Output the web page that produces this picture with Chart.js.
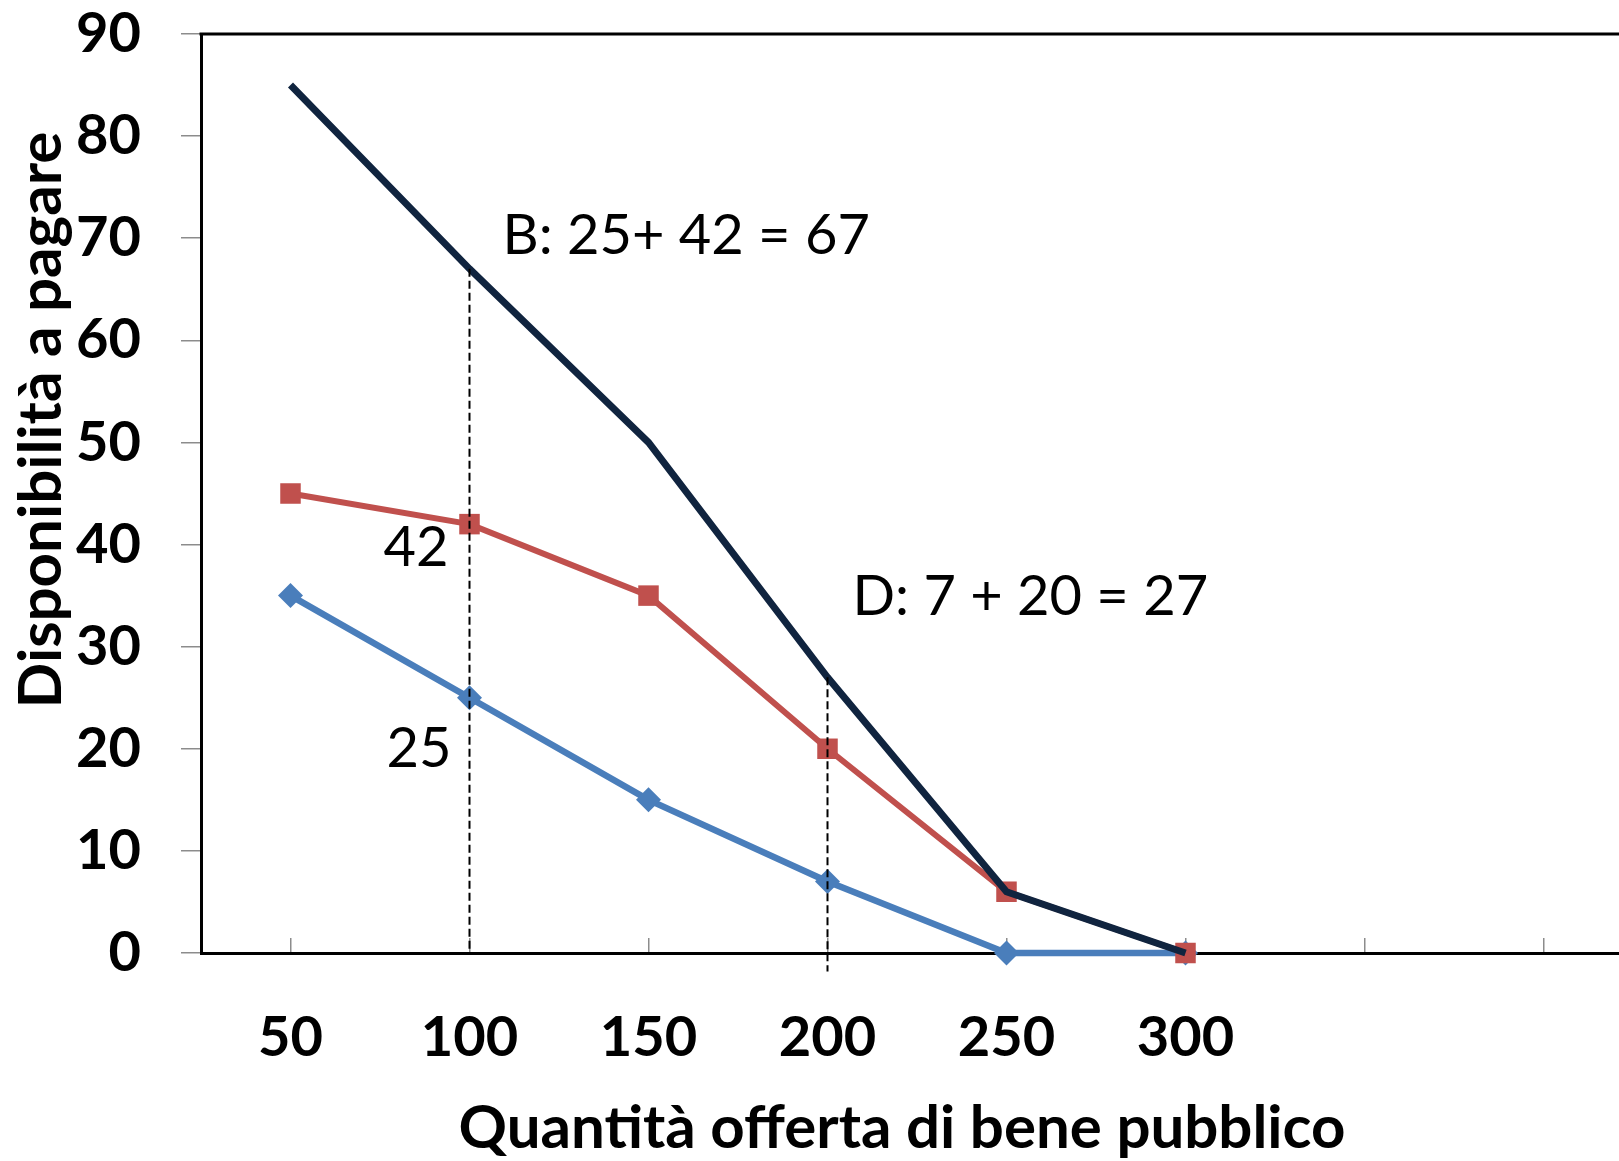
<!DOCTYPE html>
<html>
<head>
<meta charset="utf-8">
<title>Disponibilità a pagare</title>
<script src="https://cdn.jsdelivr.net/npm/chart.js@4.4.1/dist/chart.umd.min.js"></script>
<style>
  html, body { margin: 0; padding: 0; background: #fff; overflow: hidden; }
  canvas { display: block; }
</style>
</head>
<body>
<canvas id="grafico" width="1633" height="1161"></canvas>
<script>
// valori
var quantita = ['50', '100', '150', '200', '250', '300', '', ''];
var serieBlu = [35, 25, 15, 7, 0, 0];
var serieRossa = [45, 42, 35, 20, 6, 0];
var totale = [85, 67, 50, 27, 6, 0];
var yMin = 0, yMax = 90, yPasso = 10;

// linee tratteggiate verticali (B e D)
var lineaB = [{x: '100', y: 67}, {x: '100', y: 0}];
var lineaD = [{x: '200', y: 27}, {x: '200', y: -1.8}];

// etichette di testo sul grafico
var note = [
    {testo: 'B: 25+ 42 = 67', cat: 1, val: 70.2, dx: 33, align: 'left'},
    {testo: 'D: 7 + 20 = 27', cat: 3, val: 34.9, dx: 25, align: 'left'},
    {testo: '42', cat: 1, val: 39.7, dx: -21, align: 'right'},
    {testo: '25', cat: 1, val: 20.0, dx: -18, align: 'right'}
];
var titoloY = 'Disponibilità a pagare';
var titoloX = 'Quantità offerta di bene pubblico';

Chart.defaults.font.family = 'Lato';
Chart.defaults.color = '#000';

var cornice = {
    id: 'cornice',
    afterDraw: function(chart) {
        var ctx = chart.ctx;
        var area = chart.chartArea;
        var xs = chart.scales.x, ys = chart.scales.y;
        ctx.save();
        // bordo superiore
        ctx.strokeStyle = '#000';
        ctx.lineWidth = 3;
        ctx.beginPath();
        ctx.moveTo(area.left - 1.5, area.top);
        ctx.lineTo(area.right, area.top);
        ctx.stroke();

        // note
        ctx.fillStyle = '#000';
        ctx.font = '56px Lato';
        ctx.textBaseline = 'middle';
        note.forEach(function(n) {
            ctx.textAlign = n.align;
            ctx.fillText(n.testo, xs.getPixelForValue(n.cat) + n.dx, ys.getPixelForValue(n.val));
        });

        // titoli degli assi
        ctx.font = 'bold 60px Lato';
        ctx.textAlign = 'center';
        ctx.fillText(titoloX, 902, 1129);
        ctx.translate(42, 420);
        ctx.rotate(-Math.PI / 2);
        ctx.fillText(titoloY, 0, 0);
        ctx.restore();
    }
};

new Chart(document.getElementById('grafico'), {
    type: 'line',
    data: {
        labels: quantita,
        datasets: [
            {
                data: lineaB,
                borderColor: '#000',
                borderWidth: 2,
                borderDash: [8, 4],
                pointRadius: 0,
                clip: false
            },
            {
                data: lineaD,
                borderColor: '#000',
                borderWidth: 2,
                borderDash: [8, 4],
                pointRadius: 0,
                clip: false
            },
            {
                label: 'Totale',
                data: totale,
                borderColor: '#10243f',
                borderWidth: 7,
                pointRadius: 0,
                tension: 0,
                clip: false
            },
            {
                label: 'Rossa',
                data: serieRossa,
                borderColor: '#c0504d',
                backgroundColor: '#c0504d',
                borderWidth: 6,
                pointStyle: 'rect',
                pointRadius: 14.5,
                pointBorderWidth: 0,
                tension: 0,
                clip: false
            },
            {
                label: 'Blu',
                data: serieBlu,
                borderColor: '#4a7ebb',
                backgroundColor: '#4a7ebb',
                borderWidth: 6.5,
                pointStyle: 'rectRot',
                pointRadius: 12.5,
                pointBorderWidth: 0,
                tension: 0,
                clip: false
            }
        ]
    },
    options: {
        responsive: false,
        animation: false,
        layout: {
            autoPadding: false,
            padding: {left: 0, top: 34, right: 0, bottom: 0}
        },
        plugins: {
            legend: {display: false},
            tooltip: {enabled: false}
        },
        scales: {
            x: {
                offset: true,
                grid: {
                    offset: false,
                    drawOnChartArea: false,
                    drawTicks: true,
                    tickLength: -15,
                    color: '#8c8c8c',
                    lineWidth: 1.5
                },
                border: {color: '#000', width: 3},
                ticks: {
                    padding: 66,
                    maxRotation: 0,
                    autoSkip: false,
                    font: {size: 56, weight: 'bold'}
                },
                afterFit: function(scale) {
                    scale.height = 208;
                    scale.paddingLeft = 0;
                    scale.paddingRight = 0;
                }
            },
            y: {
                min: yMin,
                max: yMax,
                grid: {
                    drawOnChartArea: false,
                    drawTicks: true,
                    tickLength: 20,
                    color: '#8c8c8c',
                    lineWidth: 1.5
                },
                border: {color: '#000', width: 3},
                ticks: {
                    stepSize: yPasso,
                    padding: 40,
                    font: {size: 56, weight: 'bold'}
                },
                afterFit: function(scale) {
                    scale.width = 201;
                    scale.paddingTop = 0;
                    scale.paddingBottom = 0;
                }
            }
        }
    },
    plugins: [cornice]
});
</script>
</body>
</html>
